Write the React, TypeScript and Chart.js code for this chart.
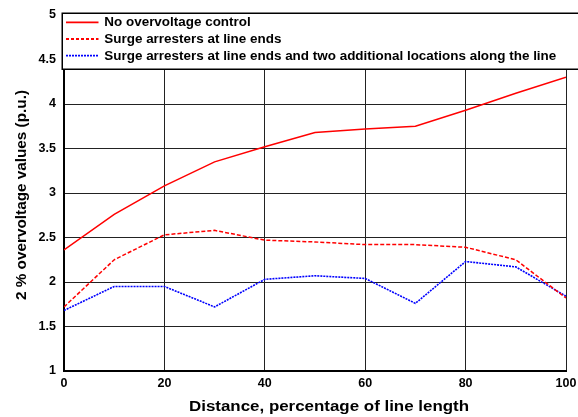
import React, { useEffect, useRef } from "react";
import { Chart, registerables } from "chart.js";

Chart.register(...registerables);

const distances = [0, 10, 20, 30, 40, 50, 60, 70, 80, 90, 100];
const noControl = [2.36, 2.76, 3.08, 3.35, 3.52, 3.68, 3.72, 3.75, 3.93, 4.12, 4.3];
const lineEnds = [1.72, 2.25, 2.53, 2.58, 2.47, 2.45, 2.42, 2.42, 2.39, 2.25, 1.82];
const twoAdditional = [1.68, 1.95, 1.95, 1.72, 2.03, 2.07, 2.04, 1.76, 2.23, 2.17, 1.84];
const seriesLabels = [
  "No overvoltage control",
  "Surge arresters at line ends",
  "Surge arresters at line ends and two additional locations along the line",
];
const xTitle = "Distance, percentage of line length";
const yTitle = "2 % overvoltage values (p.u.)";

const FONT = '"Liberation Sans", Arial, sans-serif';

const boxLegend = {
  id: "boxLegend",
  afterDraw(chart: any) {
    const ctx = chart.ctx;
    const { left } = chart.chartArea;
    const bx = left - 2.5;
    const by = 12.5;
    const bw = chart.width - bx + 4;
    const bh = 57.5;
    ctx.save();
    ctx.setLineDash([]);
    ctx.fillStyle = "#ffffff";
    ctx.fillRect(bx, by, bw, bh);
    ctx.strokeStyle = "#000000";
    ctx.lineWidth = 1.5;
    ctx.strokeRect(bx + 0.75, by + 0.75, bw, bh - 1.5);
    ctx.font = `bold 12.5px ${FONT}`;
    const longest = ctx.measureText(seriesLabels[2]).width;
    const sx = 452 / longest;
    const sampleDash = [[], [3, 2], [2, 1]];
    chart.data.datasets.forEach((ds: any, i: number) => {
      const y = 22.3 + i * 16.7;
      ctx.strokeStyle = ds.borderColor;
      ctx.lineWidth = 1.8;
      ctx.setLineDash(sampleDash[i] || []);
      ctx.beginPath();
      ctx.moveTo(66, y);
      ctx.lineTo(98.5, y);
      ctx.stroke();
      ctx.setLineDash([]);
      ctx.save();
      ctx.translate(104.3, y + 0.5);
      ctx.scale(sx, 1);
      ctx.fillStyle = "#000000";
      ctx.font = `bold 12.5px ${FONT}`;
      ctx.textBaseline = "middle";
      ctx.textAlign = "left";
      ctx.fillText(ds.label, 0, 0);
      ctx.restore();
    });
    ctx.restore();
  },
};

const axisTitles = {
  id: "axisTitles",
  afterDraw(chart: any) {
    const ctx = chart.ctx;
    const { top, bottom } = chart.chartArea;
    ctx.save();
    ctx.fillStyle = "#000000";
    ctx.font = `bold 14px ${FONT}`;
    ctx.textBaseline = "middle";
    ctx.textAlign = "center";
    const wx = ctx.measureText(xTitle).width;
    ctx.save();
    ctx.translate(329, 407.5);
    ctx.scale(280 / wx, 1);
    ctx.fillText(xTitle, 0, 0);
    ctx.restore();
    const wy = ctx.measureText(yTitle).width;
    ctx.save();
    ctx.translate(22, (top + bottom) / 2 + 2);
    ctx.rotate(-Math.PI / 2);
    ctx.scale(210 / wy, 1);
    ctx.fillText(yTitle, 0, 0);
    ctx.restore();
    ctx.restore();
  },
};

export default function App() {
  const canvasRef = useRef<HTMLCanvasElement | null>(null);

  useEffect(() => {
    if (!canvasRef.current) return;
    const toPoints = (vals: number[]) => distances.map((x, i) => ({ x, y: vals[i] }));
    const chart = new Chart(canvasRef.current, {
      type: "line",
      data: {
        datasets: [
          {
            label: seriesLabels[0],
            data: toPoints(noControl),
            borderColor: "#ff0000",
            borderWidth: 1.5,
            pointRadius: 0,
            tension: 0,
          },
          {
            label: seriesLabels[1],
            data: toPoints(lineEnds),
            borderColor: "#ff0000",
            borderWidth: 1.5,
            borderDash: [4, 2],
            pointRadius: 0,
            tension: 0,
          },
          {
            label: seriesLabels[2],
            data: toPoints(twoAdditional),
            borderColor: "#0000ff",
            borderWidth: 1.6,
            borderDash: [2, 1],
            pointRadius: 0,
            tension: 0,
          },
        ] as any,
      },
      options: {
        responsive: false,
        animation: false,
        layout: { padding: { top: 15, right: 12, left: 0, bottom: 0 } },
        plugins: {
          legend: { display: false },
          tooltip: { enabled: false },
        },
        scales: {
          x: {
            type: "linear",
            min: 0,
            max: 100,
            ticks: {
              stepSize: 20,
              color: "#000",
              padding: 5,
              font: { family: FONT, size: 12.5, weight: "bold" },
            },
            grid: { color: "#222", lineWidth: 1, drawTicks: false },
            border: { color: "#000", width: 2 },
            afterFit: (s: any) => {
              s.height = 46;
              s.paddingLeft = 0;
              s.paddingRight = 0;
            },
          },
          y: {
            min: 1,
            max: 5,
            ticks: {
              stepSize: 0.5,
              color: "#000",
              padding: 8,
              font: { family: FONT, size: 12.5, weight: "bold" },
              callback: (v: any) => String(Math.round(Number(v) * 10) / 10),
            },
            grid: { color: "#222", lineWidth: 1, drawTicks: false },
            border: { color: "#000", width: 2 },
            afterFit: (s: any) => {
              s.width = 64;
              s.paddingTop = 0;
              s.paddingBottom = 0;
            },
          },
        },
      } as any,
      plugins: [boxLegend, axisTitles],
    });
    return () => chart.destroy();
  }, []);

  return (
    <div style={{ position: "absolute", left: 0, top: 0, width: 578, height: 417, background: "#fff" }}>
      <canvas ref={canvasRef} width={578} height={417} style={{ width: 578, height: 417, display: "block" }} />
    </div>
  );
}
